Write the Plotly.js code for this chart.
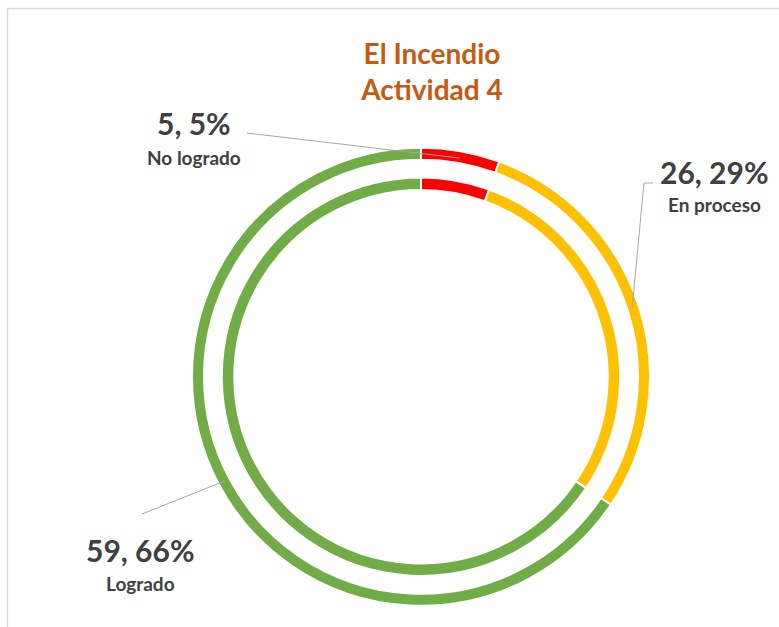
<!DOCTYPE html>
<html>
<head>
<meta charset="utf-8">
<script src="https://cdn.plot.ly/plotly-3.0.1.min.js"></script>
<style>
html,body{margin:0;padding:0;background:#fff;}
#chart{width:779px;height:627px;}
</style>
</head>
<body>
<div id="chart"></div>
<script>
// ---- data ----
const categories = ['No logrado', 'En proceso', 'Logrado'];
const counts = [5, 26, 59];
const percentLabels = ['5%', '29%', '66%'];
const sliceColors = ['#FF0000', '#FFC000', '#70AD47'];

// ---- geometry (pixels) ----
const W = 779, H = 627;
const cx = 421, cy = 376.7;       // ring centre
const rOuter = 229, rInner = 199.2;
const rLeader = 222;

function dom(r) {
  return {
    x: [(cx - r) / W, (cx + r) / W],
    y: [(H - cy - r) / H, (H - cy + r) / H]
  };
}

const ringBase = {
  type: 'pie',
  labels: categories,
  values: counts,
  sort: false,
  direction: 'clockwise',
  rotation: 0,
  textinfo: 'none',
  hoverinfo: 'label+value+percent',
  showlegend: false,
  marker: {colors: sliceColors, line: {color: '#ffffff', width: 2}}
};

const traces = [
  Object.assign({}, ringBase, {domain: dom(rOuter), hole: (rOuter - 12) / rOuter, name: 'outer'}),
  Object.assign({}, ringBase, {domain: dom(rInner), hole: (rInner - 12.5) / rInner, name: 'inner'})
];

// leader line end points computed from slice mid-angles
const total = counts.reduce((a, b) => a + b, 0);
let cum = 0;
const mids = counts.map(v => { const m = (cum + v / 2) / total * 2 * Math.PI; cum += v; return m; });
function ringPt(i) {
  const a = mids[i];
  return [(cx + rLeader * Math.sin(a)) / W, (H - cy + rLeader * Math.cos(a)) / H];
}
function px(x, y) { return [x / W, (H - y) / H]; }

// label anchor positions (pixels) for leader line starts
const leaderStarts = [[[247, 133]], [[653, 183], [644, 183]], [[142, 514]]];
const shapes = [];
leaderStarts.forEach((pts, i) => {
  const p = pts.map(q => px(q[0], q[1]));
  p.push(ringPt(i));
  const path = p.map((q, k) => (k ? 'L' : 'M') + q[0].toFixed(5) + ',' + q[1].toFixed(5)).join(' ');
  shapes.push({type: 'path', xref: 'paper', yref: 'paper', path: path,
               line: {color: '#A6A6A6', width: 1}});
});
// chart area border
shapes.push({type: 'rect', xref: 'paper', yref: 'paper',
             x0: 7.5 / W, x1: 1.05, y0: -0.05, y1: 1 - 8.5 / H,
             line: {color: '#D9D9D9', width: 1.5}, fillcolor: 'rgba(0,0,0,0)'});

// data labels
const labelPos = [[194, 123, 157], [714, 172, 205], [140.5, 550, 583]];
const annotations = [];
categories.forEach((c, i) => {
  const [x, y1, y2] = labelPos[i];
  annotations.push({xref: 'paper', yref: 'paper', x: x / W, y: (H - y1) / H,
    xanchor: 'center', yanchor: 'middle', showarrow: false,
    text: '<b>' + counts[i] + ', ' + percentLabels[i] + '</b>',
    font: {family: 'Lato, "Open Sans", sans-serif', size: 30, color: '#404040'}});
  annotations.push({xref: 'paper', yref: 'paper', x: x / W, y: (H - y2) / H,
    xanchor: 'center', yanchor: 'middle', showarrow: false,
    text: '<b>' + c + '</b>',
    font: {family: 'Lato, "Open Sans", sans-serif', size: 19, color: '#404040'}});
});

const layout = {
  width: W, height: H,
  margin: {l: 0, r: 0, t: 0, b: 0},
  paper_bgcolor: '#ffffff',
  title: {
    text: '<b>El Incendio<br>Actividad 4</b>',
    x: 432 / W, xanchor: 'center',
    y: 1 - 64 / H, yanchor: 'middle', yref: 'container',
    font: {family: 'Lato, "Open Sans", sans-serif', size: 28, weight: 700, color: '#C55A11'}
  },
  shapes: shapes,
  annotations: annotations
};

Plotly.newPlot('chart', traces, layout, {displayModeBar: false, staticPlot: true});
</script>
</body>
</html>
